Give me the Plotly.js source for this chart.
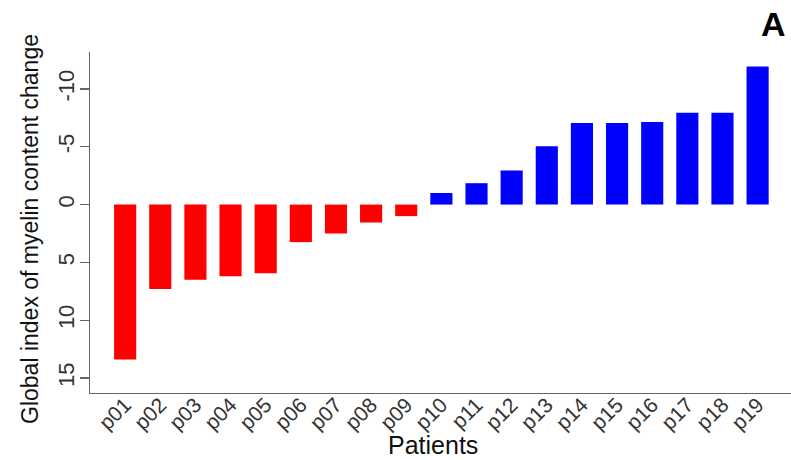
<!DOCTYPE html>
<html>
<head>
<meta charset="utf-8">
<script src="https://cdn.plot.ly/plotly-3.0.1.min.js"></script>
<style>html,body{margin:0;padding:0;background:#fff;}#chart{width:791px;height:460px;}</style>
</head>
<body>
<div id="chart"></div>
<script>
const patients = ["p01","p02","p03","p04","p05","p06","p07","p08","p09","p10","p11","p12","p13","p14","p15","p16","p17","p18","p19"];
const myelinChange = [13.4, 7.3, 6.5, 6.2, 5.95, 3.25, 2.5, 1.55, 1.0, -1.0, -1.85, -2.95, -5.05, -7.05, -7.05, -7.15, -7.95, -7.95, -11.95];
const yTickVals = [-10, -5, 0, 5, 10, 15];
const yTickText = ["-10", "-5", "0", "5", "10", "15"];
const barColors = myelinChange.map(v => v > 0 ? "#FF0000" : "#0000FF");

const trace = {
  type: "bar",
  x: patients,
  y: myelinChange,
  marker: {color: barColors, line: {width: 0}},
  hoverinfo: "x+y"
};

const layout = {
  width: 791, height: 460,
  margin: {l: 90, r: 0, t: 52, b: 67},
  paper_bgcolor: "#fff", plot_bgcolor: "#fff",
  showlegend: false,
  bargap: 0.37,
  font: {family: "Liberation Sans, Arial, sans-serif", color: "#111"},
  xaxis: {
    type: "category",
    range: [-1, 18.95],
    showline: true, linecolor: "#666", linewidth: 1.3,
    ticks: "", showgrid: false, zeroline: false,
    tickangle: -45, tickfont: {size: 21, color: "#333"},
    ticklabelstandoff: -10,
    automargin: false
  },
  yaxis: {
    range: [16.3, -13.2],
    showline: true, linecolor: "#666", linewidth: 1.3,
    ticks: "outside", ticklen: 9, tickcolor: "#666", tickwidth: 1.3,
    tickvals: yTickVals, ticktext: yTickText,
    tickangle: -90, tickfont: {size: 22, color: "#333"},
    ticklabelstandoff: -3,
    showgrid: false, zeroline: false,
    automargin: false
  },
  annotations: [{
    text: "Global index of myelin content change", xref: "paper", yref: "paper",
    x: -0.0856, y: 0.481, xanchor: "center", yanchor: "middle", textangle: -90,
    showarrow: false, font: {size: 23, color: "#111"}
  }, {
    text: "Patients", xref: "paper", yref: "paper",
    x: 0.489, y: -0.2, xanchor: "center", yanchor: "bottom",
    showarrow: false, font: {size: 25, color: "#111"}
  }, {
    text: "<b>A</b>", xref: "paper", yref: "paper",
    x: 0.955, y: 1.082, xanchor: "left", yanchor: "middle",
    showarrow: false, font: {size: 34, color: "#000"}
  }]
};

Plotly.newPlot("chart", [trace], layout, {displayModeBar: false, staticPlot: true});
</script>
</body>
</html>
